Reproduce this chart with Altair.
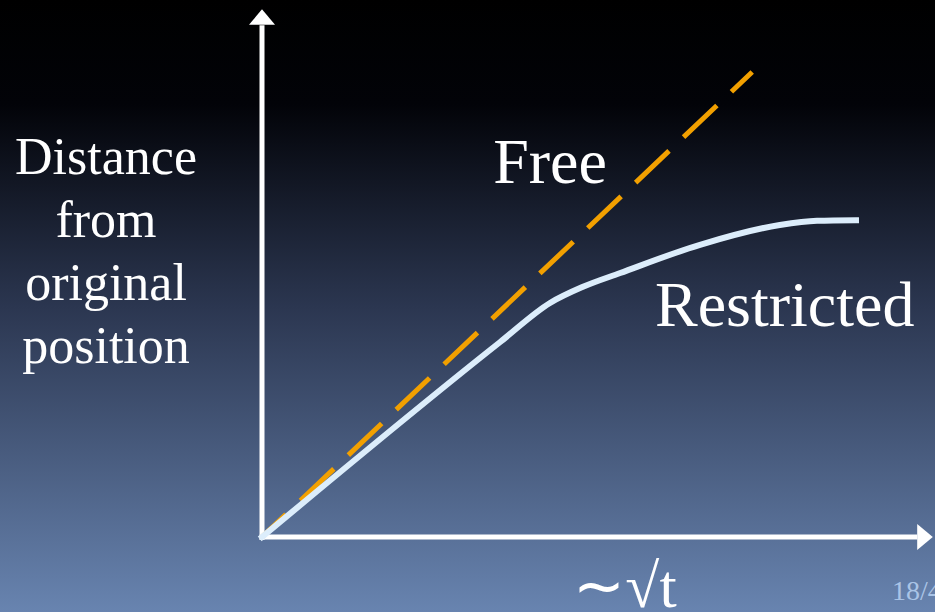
import altair as alt
import pandas as pd

# Free diffusion: straight growth with sqrt(t)
free_t = [0.0, 8.17]
free_d = [0.0, 7.75]

# Restricted diffusion: linear at first, then levelling off
restricted_t = [0.0, 3.97, 4.80, 5.35, 5.97, 7.30, 8.63, 9.25, 9.90]
restricted_d = [0.0, 3.25, 3.90, 4.17, 4.40, 4.87, 5.20, 5.27, 5.28]

# Axis extents (in the same units as the curves)
axis_x_end = 10.92
axis_y_end = 8.53

W, H = 935, 612
xs = alt.Scale(domain=[-4.3667, 11.2167], nice=False, zero=False)
ys = alt.Scale(domain=[-1.25, 8.95], nice=False, zero=False)

SERIF = "Liberation Serif"

background = alt.Chart(alt.Data(values=[{}])).mark_rect(
    color=alt.LinearGradient(
        gradient="linear",
        x1=0, y1=0, x2=0, y2=1,
        stops=[
            alt.GradientStop(color="#000000", offset=0.0),
            alt.GradientStop(color="#020308", offset=0.17),
            alt.GradientStop(color="#2b3650", offset=0.50),
            alt.GradientStop(color="#6884b0", offset=1.0),
        ],
    ),
    strokeWidth=0,
).encode(x=alt.value(0), x2=alt.value(W), y=alt.value(0), y2=alt.value(H))

axes_df = pd.DataFrame({
    "x": [-0.04, 0.0],
    "y": [0.0, -0.05],
    "x2": [axis_x_end, 0.0],
    "y2": [0.0, axis_y_end],
})
axes = alt.Chart(axes_df).mark_rule(color="white", strokeWidth=5).encode(
    x=alt.X("x:Q", scale=xs, axis=None),
    y=alt.Y("y:Q", scale=ys, axis=None),
    x2="x2:Q",
    y2="y2:Q",
)

arrow_up = alt.Chart(alt.Data(values=[{}])).mark_point(
    shape="M0,-0.6L1,0.6L-1,0.6Z", size=676, filled=True, color="white", opacity=1
).encode(x=alt.datum(0.0, scale=xs, axis=None), y=alt.datum(8.667, scale=ys, axis=None))

arrow_right = alt.Chart(alt.Data(values=[{}])).mark_point(
    shape="M0.6,0L-0.6,1L-0.6,-1Z", size=676, filled=True, color="white", opacity=1
).encode(x=alt.datum(11.05, scale=xs, axis=None), y=alt.datum(0.0, scale=ys, axis=None))

free = alt.Chart(pd.DataFrame({"t": free_t, "d": free_d})).mark_line(
    color="#f2a000", strokeWidth=5, strokeDash=[46, 20], strokeDashOffset=13
).encode(
    x=alt.X("t:Q", scale=xs, axis=None),
    y=alt.Y("d:Q", scale=ys, axis=None),
)

restricted = alt.Chart(pd.DataFrame({"t": restricted_t, "d": restricted_d})).mark_line(
    color="#dcedfb", strokeWidth=6, interpolate="monotone", strokeCap="square"
).encode(
    x=alt.X("t:Q", scale=xs, axis=None),
    y=alt.Y("d:Q", scale=ys, axis=None),
)


def label(text, x, y, size, align="center", color="white"):
    return alt.Chart(alt.Data(values=[{}])).mark_text(
        text=text, font=SERIF, fontSize=size, color=color, align=align,
        baseline="alphabetic", lineBreak="\n", lineHeight=63, clip=True,
    ).encode(x=alt.datum(x, scale=xs, axis=None), y=alt.datum(y, scale=ys, axis=None))


ylabel = label("Distance\nfrom\noriginal\nposition", -2.60, 6.05, 52)
free_lbl = label("Free", 4.80, 5.90, 64)
restr_lbl = label("Restricted", 6.55, 3.52, 64, align="left")
xlabel = label("∼√t", 6.05, -1.17, 62)
page = label("18/40", 10.50, -1.05, 28, align="left", color="#aac4e6")

chart = alt.layer(
    background, axes, arrow_up, arrow_right, free, restricted,
    ylabel, free_lbl, restr_lbl, xlabel, page,
).properties(
    width=W, height=H, padding=0, autosize=alt.AutoSizeParams(type="none"),
).configure_view(stroke=None, strokeWidth=0)

chart.save("out.html", embed_options={"renderer": "svg", "actions": False})
